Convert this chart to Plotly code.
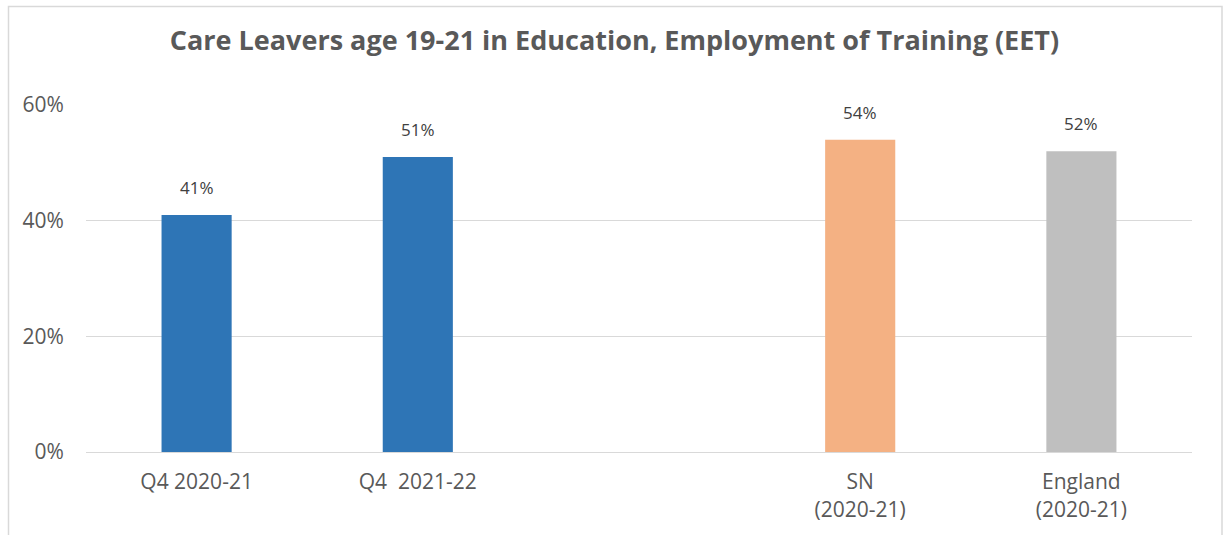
import plotly.graph_objects as go

categories = ["Q4 2020-21", "Q4\u00a0 2021-22", " ", "SN<br>(2020-21)", "England<br>(2020-21)"]
values = [41, 51, None, 54, 52]
bar_colors = ["#2E75B6", "#2E75B6", "#2E75B6", "#F4B183", "#BFBFBF"]
y_ticks = [0, 20, 40, 60]
y_tick_labels = ["0%", "20%", "40%", "60%"]
title_text = "Care Leavers age 19-21 in Education, Employment of Training (EET)"

W, H = 1227, 535
ml, mr, mt, mb = 86, 35, 105, 83
pw, ph = W - ml - mr, H - mt - mb

fig = go.Figure(go.Bar(
    x=categories, y=values, marker=dict(color=bar_colors, line=dict(width=0)),
    hoverinfo="skip",
))

for c, v in zip(categories, values):
    if v is None:
        continue
    fig.add_annotation(x=c, y=v, text=f"{v:.0f}%", showarrow=False, yanchor="bottom",
                       yshift=14, font=dict(family="Open Sans", size=17, color="#404040"))

fig.add_shape(type="rect", xref="paper", yref="paper",
              x0=(8.5 - ml) / pw, x1=(1222 - ml) / pw,
              y0=-0.5, y1=(H - mb - 6.5) / ph,
              line=dict(color="#D9D9D9", width=1.5), fillcolor="rgba(0,0,0,0)", layer="below")

fig.update_layout(
    width=W, height=H,
    margin=dict(l=ml, r=mr, t=mt, b=mb, pad=0),
    paper_bgcolor="white", plot_bgcolor="white",
    bargap=0.683,
    showlegend=False,
    title=dict(text=f"<b>{title_text}</b>", x=614.5 / W, xanchor="center",
               y=1 - 41 / H, yanchor="middle",
               font=dict(family="Open Sans", size=27, color="#595959")),
    xaxis=dict(type="category", categoryorder="array", categoryarray=categories,
               showgrid=False, showline=False, zeroline=False,
               ticks="outside", ticklen=11, tickcolor="rgba(0,0,0,0)",
               tickfont=dict(family="Open Sans", size=21, color="#595959"),
               fixedrange=True),
    yaxis=dict(range=[0, 60], tickvals=y_ticks, ticktext=y_tick_labels,
               showgrid=True, gridcolor="#D9D9D9", gridwidth=1.3,
               zeroline=True, zerolinecolor="#D9D9D9", zerolinewidth=1.3,
               showline=False, ticks="outside", ticklen=17, tickcolor="rgba(0,0,0,0)",
               tickfont=dict(family="Open Sans", size=21, color="#595959"),
               fixedrange=True),
)

fig.write_html("out.html", config={"displayModeBar": False},
               post_script="document.body.style.margin='0';")
